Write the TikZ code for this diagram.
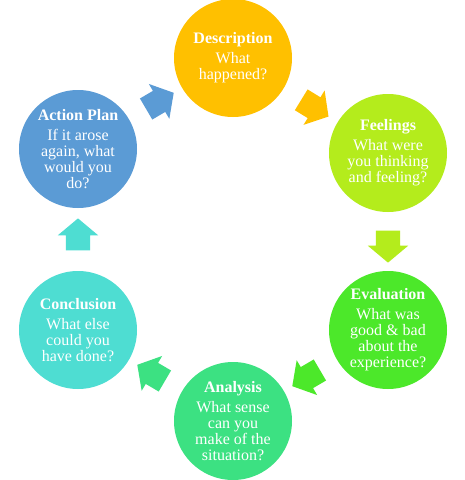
\documentclass[tikz,border=0pt]{standalone}
\usepackage{fontspec}
\setmainfont{Liberation Serif}
\usetikzlibrary{shapes.arrows}
\definecolor{cdesc}{RGB}{255,192,0}
\definecolor{cfeel}{RGB}{180,236,28}
\definecolor{ceval}{RGB}{76,232,42}
\definecolor{cana}{RGB}{60,225,130}
\definecolor{ccon}{RGB}{78,221,210}
\definecolor{cact}{RGB}{91,155,213}
\tikzset{
  stage/.style={circle, minimum size=118pt, inner sep=0pt, draw=none,
    text=white, align=center, font=\fontsize{16}{16}\selectfont},
  blockarrow/.style={single arrow, draw=none, inner xsep=0pt, inner ysep=12pt,
    minimum height=32pt, minimum width=40pt,
    single arrow head extend=8pt, single arrow tip angle=100,
    sloped, allow upside down},
}
\newcommand{\stagetitle}[1]{\textbf{#1}\\[4pt]}
\begin{document}
\begin{tikzpicture}[x=1pt,y=-1pt]
\fill[white] (0,0) rectangle (465,480);
\useasboundingbox (0,0) rectangle (465,480);
\clip (0,0) rectangle (465,480);
\node[stage, fill=cdesc] (desc) at (233,58) {\stagetitle{Description}What\\happened?};
\node[stage, fill=cfeel] (feel) at (388,153) {\stagetitle{Feelings}What were\\you thinking\\and feeling?};
\node[stage, fill=ceval] (eval) at (388,330) {\stagetitle{Evaluation}What was\\good \& bad\\about the\\experience?};
\node[stage, fill=cana] (ana) at (233,421) {\stagetitle{Analysis}What sense\\can you\\make of the\\situation?};
\node[stage, fill=ccon] (con) at (78,330) {\stagetitle{Conclusion}What else\\could you\\have done?};
\node[stage, fill=cact] (act) at (78,149) {\stagetitle{Action Plan}If it arose\\again, what\\would you\\do?};
\path (desc) -- node[blockarrow, fill=cdesc] (a1) {} (feel);
\path (feel) -- node[blockarrow, fill=cfeel] (a2) {} (eval);
\path (eval) -- node[blockarrow, fill=ceval] (a3) {} (ana);
\path (ana) -- node[blockarrow, fill=cana] (a4) {} (con);
\path (con) -- node[blockarrow, fill=ccon] (a5) {} (act);
\path (act) -- node[blockarrow, fill=cact] (a6) {} (desc);
\end{tikzpicture}
\end{document}
